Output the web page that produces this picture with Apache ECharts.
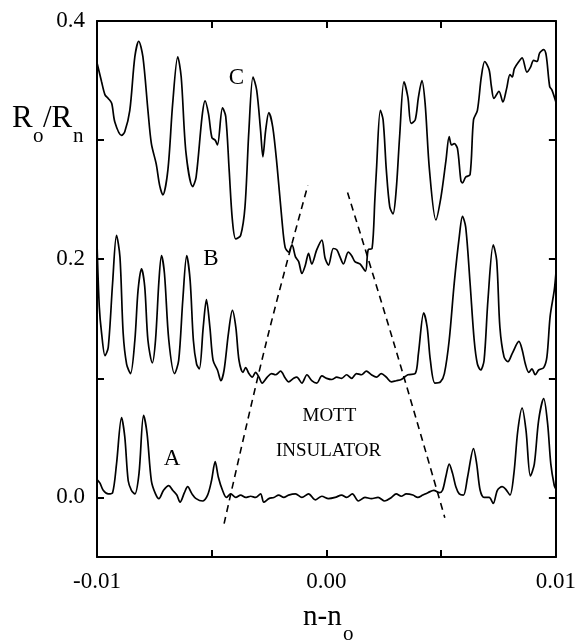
<!DOCTYPE html>
<html>
<head>
<meta charset="utf-8">
<script src="https://cdn.jsdelivr.net/npm/echarts@6/dist/echarts.min.js"></script>
<style>
  html, body { margin: 0; padding: 0; background: #fff; }
  #chart { width: 579px; height: 643px; }
</style>
</head>
<body>
<div id="chart"></div>
<script>
// traces: [n - n0, Ro/Rn]
const curveC = [
  [-0.0100, 0.365], [-0.00980, 0.349], [-0.00965, 0.338], [-0.00951, 0.335], [-0.00936, 0.331],
  [-0.00922, 0.315], [-0.00893, 0.304], [-0.00879, 0.307], [-0.00857, 0.325], [-0.00835, 0.370],
  [-0.00818, 0.383], [-0.00800, 0.370], [-0.00778, 0.325], [-0.00763, 0.297], [-0.00742, 0.280],
  [-0.00727, 0.262], [-0.00713, 0.254], [-0.00691, 0.275], [-0.00670, 0.331], [-0.00648, 0.370],
  [-0.00633, 0.353], [-0.00612, 0.289], [-0.00583, 0.261], [-0.00568, 0.269], [-0.00542, 0.320],
  [-0.00529, 0.333], [-0.00514, 0.322], [-0.00499, 0.302], [-0.00485, 0.300], [-0.00475, 0.296],
  [-0.00453, 0.327], [-0.00439, 0.320], [-0.00424, 0.275], [-0.00410, 0.233], [-0.00395, 0.217],
  [-0.00374, 0.220], [-0.00355, 0.244], [-0.00338, 0.308], [-0.00320, 0.353], [-0.00304, 0.342],
  [-0.00287, 0.308], [-0.00277, 0.286], [-0.00265, 0.308], [-0.00251, 0.323], [-0.00234, 0.311],
  [-0.00215, 0.278], [-0.00194, 0.233], [-0.00180, 0.210], [-0.00165, 0.206], [-0.00150, 0.212],
  [-0.00135, 0.202], [-0.00121, 0.198], [-0.00107, 0.188], [-0.00092, 0.195], [-0.00078, 0.205],
  [-0.00064, 0.196], [-0.00042, 0.208], [-0.00020, 0.216], [-0.00006, 0.201], [0.00009, 0.195],
  [0.00030, 0.209], [0.00045, 0.208], [0.00059, 0.202], [0.00074, 0.196], [0.00095, 0.206],
  [0.00110, 0.203], [0.00124, 0.198], [0.00146, 0.196], [0.00170, 0.190], [0.00182, 0.208],
  [0.00199, 0.209], [0.00211, 0.250], [0.00218, 0.275], [0.00235, 0.325], [0.00247, 0.317],
  [0.00261, 0.275], [0.00276, 0.244], [0.00290, 0.238], [0.00304, 0.258], [0.00319, 0.303],
  [0.00338, 0.349], [0.00355, 0.336], [0.00369, 0.314], [0.00387, 0.317], [0.00401, 0.336],
  [0.00416, 0.350], [0.00430, 0.331], [0.00449, 0.275], [0.00477, 0.233], [0.00499, 0.252],
  [0.00521, 0.283], [0.00535, 0.303], [0.00545, 0.296], [0.00557, 0.297], [0.00571, 0.293],
  [0.00586, 0.266], [0.00593, 0.264], [0.00607, 0.269], [0.00626, 0.271], [0.00641, 0.317],
  [0.00658, 0.325], [0.00675, 0.353], [0.00690, 0.366], [0.00709, 0.359], [0.00719, 0.345],
  [0.00730, 0.335], [0.00752, 0.341], [0.00769, 0.332], [0.00785, 0.343], [0.00800, 0.355],
  [0.00810, 0.353], [0.00819, 0.360], [0.00839, 0.366], [0.00853, 0.369], [0.00874, 0.357],
  [0.00889, 0.361], [0.00903, 0.367], [0.00918, 0.366], [0.00929, 0.373], [0.00947, 0.376],
  [0.00958, 0.371], [0.00973, 0.345], [0.00983, 0.342], [0.01000, 0.332]
];

const curveB = [
  [-0.0100, 0.214], [-0.00990, 0.160], [-0.00980, 0.138], [-0.00965, 0.119], [-0.00951, 0.126],
  [-0.00932, 0.180], [-0.00915, 0.220], [-0.00900, 0.202], [-0.00886, 0.138], [-0.00871, 0.112],
  [-0.00854, 0.104], [-0.00835, 0.132], [-0.00821, 0.174], [-0.00806, 0.192], [-0.00792, 0.177],
  [-0.00778, 0.132], [-0.00759, 0.113], [-0.00745, 0.132], [-0.00730, 0.182], [-0.00719, 0.203],
  [-0.00706, 0.188], [-0.00687, 0.132], [-0.00662, 0.104], [-0.00644, 0.115], [-0.00626, 0.166],
  [-0.00609, 0.203], [-0.00594, 0.182], [-0.00580, 0.132], [-0.00566, 0.112], [-0.00554, 0.108],
  [-0.00537, 0.143], [-0.00523, 0.166], [-0.00508, 0.143], [-0.00494, 0.115], [-0.00475, 0.107],
  [-0.00460, 0.098], [-0.00446, 0.107], [-0.00427, 0.138], [-0.00410, 0.157], [-0.00395, 0.143],
  [-0.00381, 0.115], [-0.00364, 0.105], [-0.00352, 0.109], [-0.00338, 0.104], [-0.00323, 0.101],
  [-0.00309, 0.105], [-0.00294, 0.101], [-0.00280, 0.096], [-0.00258, 0.101], [-0.00239, 0.104],
  [-0.00222, 0.103], [-0.00200, 0.106], [-0.00179, 0.100], [-0.00165, 0.097], [-0.00143, 0.100],
  [-0.00129, 0.101], [-0.00107, 0.096], [-0.00085, 0.103], [-0.00064, 0.098], [-0.00042, 0.096],
  [-0.00020, 0.102], [0.00001, 0.100], [0.00023, 0.099], [0.00045, 0.101], [0.00066, 0.100],
  [0.00088, 0.103], [0.00110, 0.100], [0.00131, 0.104], [0.00153, 0.103], [0.00174, 0.106],
  [0.00196, 0.103], [0.00218, 0.101], [0.00239, 0.104], [0.00261, 0.101], [0.00283, 0.097],
  [0.00304, 0.098], [0.00326, 0.099], [0.00355, 0.103], [0.00387, 0.104], [0.00401, 0.121],
  [0.00424, 0.155], [0.00439, 0.143], [0.00453, 0.115], [0.00473, 0.096], [0.00497, 0.097],
  [0.00514, 0.104], [0.00535, 0.132], [0.00557, 0.180], [0.00579, 0.219], [0.00593, 0.236],
  [0.00607, 0.227], [0.00626, 0.180], [0.00644, 0.132], [0.00658, 0.112], [0.00672, 0.107],
  [0.00687, 0.115], [0.00704, 0.166], [0.00727, 0.212], [0.00742, 0.199], [0.00756, 0.143],
  [0.00774, 0.118], [0.00791, 0.114], [0.00810, 0.121], [0.00839, 0.131], [0.00853, 0.124],
  [0.00867, 0.112], [0.00882, 0.105], [0.00896, 0.108], [0.00910, 0.103], [0.00925, 0.107],
  [0.00947, 0.109], [0.00961, 0.118], [0.00975, 0.152], [0.00993, 0.174], [0.01000, 0.188]
];

const curveA = [
  [-0.0100, 0.015], [-0.00987, 0.012], [-0.00973, 0.006], [-0.00951, 0.003], [-0.00932, 0.004],
  [-0.00915, 0.028], [-0.00893, 0.067], [-0.00879, 0.051], [-0.00864, 0.014], [-0.00850, 0.006],
  [-0.00835, 0.003], [-0.00817, 0.020], [-0.00797, 0.069], [-0.00782, 0.054], [-0.00763, 0.014],
  [-0.00745, 0.003], [-0.00730, -0.001], [-0.00710, 0.006], [-0.00687, 0.010], [-0.00670, 0.006],
  [-0.00652, 0.002], [-0.00638, -0.004], [-0.00619, 0.004], [-0.00605, 0.009], [-0.00586, 0.003],
  [-0.00568, -0.001], [-0.00540, -0.003], [-0.00518, 0.002], [-0.00501, 0.014], [-0.00485, 0.030],
  [-0.00471, 0.017], [-0.00453, 0.006], [-0.00436, 0.000], [-0.00417, 0.003], [-0.00395, 0.000],
  [-0.00374, 0.002], [-0.00352, 0.000], [-0.00330, 0.001], [-0.00309, 0.000], [-0.00287, 0.003],
  [-0.00273, -0.004], [-0.00251, -0.001], [-0.00229, 0.000], [-0.00208, 0.002], [-0.00186, 0.000],
  [-0.00165, 0.002], [-0.00135, 0.003], [-0.00107, 0.000], [-0.00078, 0.003], [-0.00049, -0.002],
  [-0.00020, 0.001], [0.00009, -0.001], [0.00038, 0.000], [0.00066, 0.002], [0.00088, 0.000],
  [0.00113, 0.003], [0.00139, -0.003], [0.00168, 0.000], [0.00196, -0.001], [0.00225, 0.000],
  [0.00254, -0.003], [0.00283, 0.000], [0.00304, 0.003], [0.00326, 0.001], [0.00348, 0.003],
  [0.00377, 0.002], [0.00398, 0.000], [0.00420, 0.002], [0.00442, 0.004], [0.00468, 0.006],
  [0.00492, 0.004], [0.00506, 0.006], [0.00521, 0.018], [0.00535, 0.028], [0.00550, 0.020],
  [0.00564, 0.009], [0.00579, 0.003], [0.00597, 0.002], [0.00615, 0.017], [0.00641, 0.041],
  [0.00655, 0.028], [0.00670, 0.006], [0.00687, 0.000], [0.00709, 0.000], [0.00727, -0.005],
  [0.00745, 0.006], [0.00766, 0.009], [0.00781, 0.007], [0.00800, 0.002], [0.00817, 0.020],
  [0.00834, 0.056], [0.00853, 0.075], [0.00870, 0.056], [0.00889, 0.018], [0.00906, 0.028],
  [0.00925, 0.065], [0.00947, 0.083], [0.00964, 0.062], [0.00978, 0.028], [0.00993, 0.010],
  [0.01000, 0.007]
];

// dashed edges of the insulating region
const dashLeft = [[-0.00446, -0.022], [-0.00260, 0.132], [-0.00081, 0.262]];
const dashRight = [[0.00092, 0.256], [0.00290, 0.132], [0.00516, -0.017]];

const xTicks = [-0.01, -0.005, 0, 0.005, 0.01];
const xLabels = [-0.01, 0, 0.01];
const yTicks = [0, 0.1, 0.2, 0.3, 0.4];
const yLabels = [0, 0.2, 0.4];

// curve letters and region text
const curveNames = ['C', 'B', 'A'];
const curveNameX = [-0.00392, -0.00504, -0.00673];
const curveNameY = [0.352, 0.200, 0.032];
const regionText = ['MOTT', 'INSULATOR'];
const regionX = [0.00013, 0.00009];
const regionY = [0.068, 0.039];

const serif = 'Liberation Serif, Times New Roman, serif';

let myChart = echarts.init(document.getElementById('chart'));

function trace(data) {
  return {
    type: 'line',
    data: data,
    showSymbol: false,
    smooth: 0.3,
    silent: true,
    lineStyle: { color: '#000', width: 1.7 }
  };
}

function dashed(data) {
  return {
    type: 'line',
    data: data,
    showSymbol: false,
    smooth: 0.4,
    silent: true,
    lineStyle: { color: '#000', width: 1.6, type: [7, 5] }
  };
}

function notes(names, xs, ys, size) {
  return {
    type: 'scatter',
    symbolSize: 0,
    silent: true,
    itemStyle: { opacity: 1 },
    data: names.map((n, i) => ({ name: n, value: [xs[i], ys[i]] })),
    label: {
      show: true,
      position: 'inside',
      formatter: '{b}',
      color: '#000',
      opacity: 1,
      fontFamily: serif,
      fontSize: size
    }
  };
}

const axisLine = { onZero: false, lineStyle: { color: '#000', width: 2 } };
const tickStyle = { color: '#000', width: 2 };

myChart.setOption({
  animation: false,
  grid: { left: 97, right: 20, top: 21, bottom: 86 },
  xAxis: [
    {
      type: 'value', min: -0.01, max: 0.01, position: 'bottom',
      axisLine: axisLine,
      axisTick: { show: true, inside: true, length: 7, lineStyle: tickStyle, customValues: xTicks },
      axisLabel: {
        customValues: xLabels, margin: 13, color: '#000', fontFamily: serif, fontSize: 23,
        formatter: v => v.toFixed(2)
      },
      splitLine: { show: false }
    },
    {
      type: 'value', min: -0.01, max: 0.01, position: 'top',
      axisLine: axisLine,
      axisTick: { show: true, inside: true, length: 7, lineStyle: tickStyle, customValues: xTicks },
      axisLabel: { show: false },
      splitLine: { show: false }
    }
  ],
  yAxis: [
    {
      type: 'value', min: -0.05, max: 0.4, position: 'left',
      axisLine: axisLine,
      axisTick: { show: true, inside: true, length: 7, lineStyle: tickStyle, customValues: yTicks },
      axisLabel: {
        customValues: yLabels, margin: 12, color: '#000', fontFamily: serif, fontSize: 23,
        formatter: v => v.toFixed(1)
      },
      splitLine: { show: false }
    },
    {
      type: 'value', min: -0.05, max: 0.4, position: 'right',
      axisLine: axisLine,
      axisTick: { show: true, inside: true, length: 7, lineStyle: tickStyle, customValues: yTicks },
      axisLabel: { show: false },
      splitLine: { show: false }
    }
  ],
  graphic: [
    // y title Ro/Rn
    { type: 'text', x: 12, y: 119, style: { text: 'R', font: '31px ' + serif, fill: '#000', verticalAlign: 'middle' } },
    { type: 'text', x: 33, y: 136, style: { text: 'o', font: '21px ' + serif, fill: '#000', verticalAlign: 'middle' } },
    { type: 'text', x: 43, y: 119, style: { text: '/R', font: '31px ' + serif, fill: '#000', verticalAlign: 'middle' } },
    { type: 'text', x: 73, y: 136, style: { text: 'n', font: '21px ' + serif, fill: '#000', verticalAlign: 'middle' } },
    // x title n-no
    { type: 'text', x: 303, y: 617, style: { text: 'n-n', font: '29px ' + serif, fill: '#000', verticalAlign: 'middle' } },
    { type: 'text', x: 343, y: 634, style: { text: 'o', font: '21px ' + serif, fill: '#000', verticalAlign: 'middle' } }
  ],
  series: [
    trace(curveC),
    trace(curveB),
    trace(curveA),
    dashed(dashLeft),
    dashed(dashRight),
    notes(curveNames, curveNameX, curveNameY, 23),
    notes(regionText, regionX, regionY, 19)
  ]
});
</script>
</body>
</html>
